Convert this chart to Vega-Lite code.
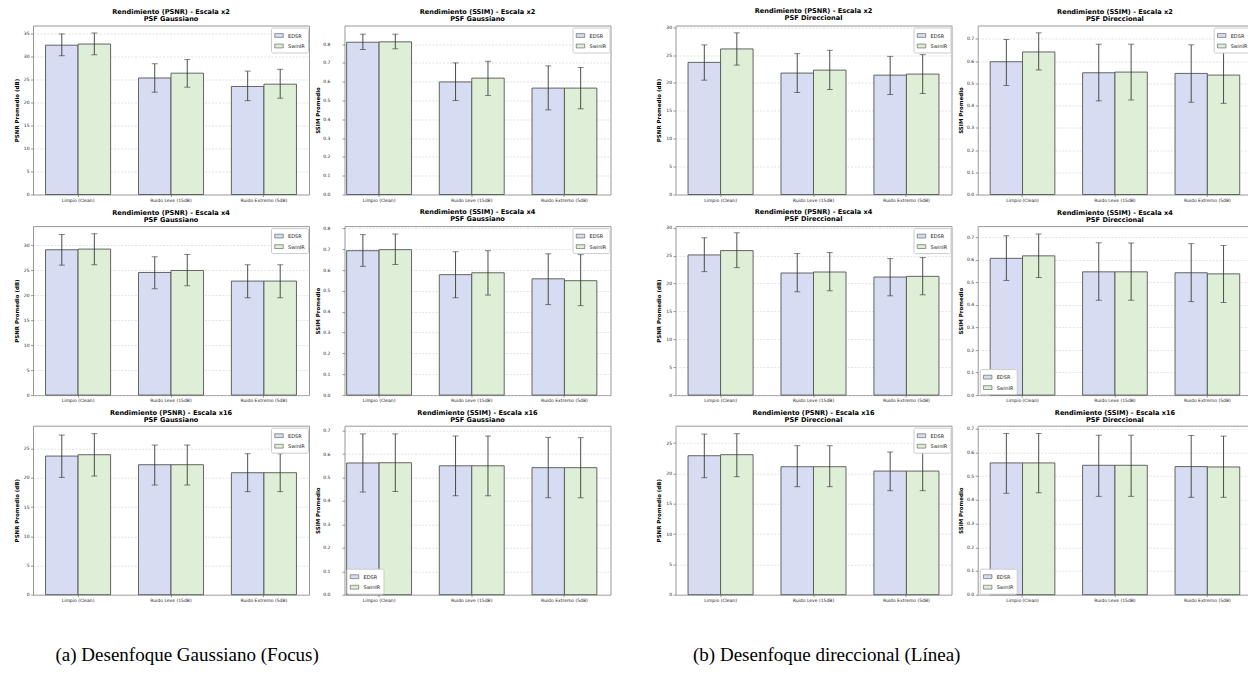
{
"$schema":"https://vega.github.io/schema/vega-lite/v6.json",
"padding":{"left":13,"top":7.5,"right":0,"bottom":0},
"background":"white",
"config":{
 "font":"DejaVu Sans",
 "view":{"stroke":"#999999","strokeWidth":1},
 "title":{"fontSize":6.6,"fontWeight":"bold","offset":2.5,"lineHeight":7,"color":"#000000","anchor":"middle"},
 "axis":{"labelFontSize":4.5,"labelColor":"#222222","titleFontSize":5.5,"titleFontWeight":"bold","titleColor":"#000000","tickSize":2.5,"tickColor":"#555555","tickWidth":0.6,"domain":false,"labelPadding":1.5},
 "axisX":{"grid":false,"labelAngle":0,"tickSize":2,"labelPadding":0.5},
 "axisY":{"grid":true,"gridDash":[2,1.5],"gridColor":"#cfcfcf","gridWidth":0.6,"titlePadding":3},
 "legend":{"labelFontSize":5,"labelColor":"#222222","symbolType":"M-1,-0.45H1V0.45H-1Z","symbolSize":72,"symbolStrokeColor":"#555555","symbolStrokeWidth":0.6,"padding":3,"rowPadding":1.5,"strokeColor":"#cccccc","fillColor":"white","cornerRadius":1.5,"offset":1.5,"labelOffset":4}
},
"datasets":{"bars":[
{"blur":"Gaussiano","scale":"x2","metric":"PSNR","noise":"Limpio (Clean)","model":"EDSR","value":32.55,"lo":30.25,"hi":35.0},
{"blur":"Gaussiano","scale":"x2","metric":"PSNR","noise":"Limpio (Clean)","model":"SwinIR","value":32.8,"lo":30.45,"hi":35.2},
{"blur":"Gaussiano","scale":"x2","metric":"PSNR","noise":"Ruido Leve (15dB)","model":"EDSR","value":25.4,"lo":22.3,"hi":28.5},
{"blur":"Gaussiano","scale":"x2","metric":"PSNR","noise":"Ruido Leve (15dB)","model":"SwinIR","value":26.45,"lo":23.4,"hi":29.4},
{"blur":"Gaussiano","scale":"x2","metric":"PSNR","noise":"Ruido Extremo (5dB)","model":"EDSR","value":23.55,"lo":20.45,"hi":26.9},
{"blur":"Gaussiano","scale":"x2","metric":"PSNR","noise":"Ruido Extremo (5dB)","model":"SwinIR","value":24.05,"lo":21.0,"hi":27.3},
{"blur":"Gaussiano","scale":"x2","metric":"SSIM","noise":"Limpio (Clean)","model":"EDSR","value":0.81,"lo":0.771,"hi":0.853},
{"blur":"Gaussiano","scale":"x2","metric":"SSIM","noise":"Limpio (Clean)","model":"SwinIR","value":0.812,"lo":0.775,"hi":0.853},
{"blur":"Gaussiano","scale":"x2","metric":"SSIM","noise":"Ruido Leve (15dB)","model":"EDSR","value":0.599,"lo":0.5,"hi":0.7},
{"blur":"Gaussiano","scale":"x2","metric":"SSIM","noise":"Ruido Leve (15dB)","model":"SwinIR","value":0.619,"lo":0.527,"hi":0.709},
{"blur":"Gaussiano","scale":"x2","metric":"SSIM","noise":"Ruido Extremo (5dB)","model":"EDSR","value":0.566,"lo":0.45,"hi":0.684},
{"blur":"Gaussiano","scale":"x2","metric":"SSIM","noise":"Ruido Extremo (5dB)","model":"SwinIR","value":0.566,"lo":0.456,"hi":0.676},
{"blur":"Direccional","scale":"x2","metric":"PSNR","noise":"Limpio (Clean)","model":"EDSR","value":23.69,"lo":20.5,"hi":26.82},
{"blur":"Direccional","scale":"x2","metric":"PSNR","noise":"Limpio (Clean)","model":"SwinIR","value":26.1,"lo":23.2,"hi":28.98},
{"blur":"Direccional","scale":"x2","metric":"PSNR","noise":"Ruido Leve (15dB)","model":"EDSR","value":21.77,"lo":18.28,"hi":25.25},
{"blur":"Direccional","scale":"x2","metric":"PSNR","noise":"Ruido Leve (15dB)","model":"SwinIR","value":22.3,"lo":18.82,"hi":25.86},
{"blur":"Direccional","scale":"x2","metric":"PSNR","noise":"Ruido Extremo (5dB)","model":"EDSR","value":21.4,"lo":17.92,"hi":24.77},
{"blur":"Direccional","scale":"x2","metric":"PSNR","noise":"Ruido Extremo (5dB)","model":"SwinIR","value":21.59,"lo":18.1,"hi":25.07},
{"blur":"Direccional","scale":"x2","metric":"SSIM","noise":"Limpio (Clean)","model":"EDSR","value":0.597,"lo":0.49,"hi":0.697},
{"blur":"Direccional","scale":"x2","metric":"SSIM","noise":"Limpio (Clean)","model":"SwinIR","value":0.641,"lo":0.56,"hi":0.727},
{"blur":"Direccional","scale":"x2","metric":"SSIM","noise":"Ruido Leve (15dB)","model":"EDSR","value":0.5475,"lo":0.421,"hi":0.676},
{"blur":"Direccional","scale":"x2","metric":"SSIM","noise":"Ruido Leve (15dB)","model":"SwinIR","value":0.5505,"lo":0.425,"hi":0.676},
{"blur":"Direccional","scale":"x2","metric":"SSIM","noise":"Ruido Extremo (5dB)","model":"EDSR","value":0.5445,"lo":0.415,"hi":0.673},
{"blur":"Direccional","scale":"x2","metric":"SSIM","noise":"Ruido Extremo (5dB)","model":"SwinIR","value":0.537,"lo":0.41,"hi":0.662},
{"blur":"Gaussiano","scale":"x4","metric":"PSNR","noise":"Limpio (Clean)","model":"EDSR","value":29.13,"lo":26.05,"hi":32.2},
{"blur":"Gaussiano","scale":"x4","metric":"PSNR","noise":"Limpio (Clean)","model":"SwinIR","value":29.26,"lo":26.12,"hi":32.33},
{"blur":"Gaussiano","scale":"x4","metric":"PSNR","noise":"Ruido Leve (15dB)","model":"EDSR","value":24.58,"lo":21.31,"hi":27.72},
{"blur":"Gaussiano","scale":"x4","metric":"PSNR","noise":"Ruido Leve (15dB)","model":"SwinIR","value":24.98,"lo":21.91,"hi":28.19},
{"blur":"Gaussiano","scale":"x4","metric":"PSNR","noise":"Ruido Extremo (5dB)","model":"EDSR","value":22.85,"lo":19.5,"hi":26.12},
{"blur":"Gaussiano","scale":"x4","metric":"PSNR","noise":"Ruido Extremo (5dB)","model":"SwinIR","value":22.85,"lo":19.5,"hi":26.12},
{"blur":"Gaussiano","scale":"x4","metric":"SSIM","noise":"Limpio (Clean)","model":"EDSR","value":0.693,"lo":0.618,"hi":0.77},
{"blur":"Gaussiano","scale":"x4","metric":"SSIM","noise":"Limpio (Clean)","model":"SwinIR","value":0.698,"lo":0.627,"hi":0.773},
{"blur":"Gaussiano","scale":"x4","metric":"SSIM","noise":"Ruido Leve (15dB)","model":"EDSR","value":0.578,"lo":0.467,"hi":0.688},
{"blur":"Gaussiano","scale":"x4","metric":"SSIM","noise":"Ruido Leve (15dB)","model":"SwinIR","value":0.587,"lo":0.48,"hi":0.693},
{"blur":"Gaussiano","scale":"x4","metric":"SSIM","noise":"Ruido Extremo (5dB)","model":"EDSR","value":0.558,"lo":0.434,"hi":0.678},
{"blur":"Gaussiano","scale":"x4","metric":"SSIM","noise":"Ruido Extremo (5dB)","model":"SwinIR","value":0.549,"lo":0.429,"hi":0.674},
{"blur":"Direccional","scale":"x4","metric":"PSNR","noise":"Limpio (Clean)","model":"EDSR","value":25.13,"lo":22.13,"hi":28.2},
{"blur":"Direccional","scale":"x4","metric":"PSNR","noise":"Limpio (Clean)","model":"SwinIR","value":25.91,"lo":22.85,"hi":29.1},
{"blur":"Direccional","scale":"x4","metric":"PSNR","noise":"Ruido Leve (15dB)","model":"EDSR","value":21.89,"lo":18.52,"hi":25.37},
{"blur":"Direccional","scale":"x4","metric":"PSNR","noise":"Ruido Leve (15dB)","model":"SwinIR","value":22.07,"lo":18.7,"hi":25.55},
{"blur":"Direccional","scale":"x4","metric":"PSNR","noise":"Ruido Extremo (5dB)","model":"EDSR","value":21.17,"lo":17.8,"hi":24.47},
{"blur":"Direccional","scale":"x4","metric":"PSNR","noise":"Ruido Extremo (5dB)","model":"SwinIR","value":21.29,"lo":17.98,"hi":24.65},
{"blur":"Direccional","scale":"x4","metric":"SSIM","noise":"Limpio (Clean)","model":"EDSR","value":0.607,"lo":0.509,"hi":0.707},
{"blur":"Direccional","scale":"x4","metric":"SSIM","noise":"Limpio (Clean)","model":"SwinIR","value":0.618,"lo":0.522,"hi":0.715},
{"blur":"Direccional","scale":"x4","metric":"SSIM","noise":"Ruido Leve (15dB)","model":"EDSR","value":0.547,"lo":0.421,"hi":0.676},
{"blur":"Direccional","scale":"x4","metric":"SSIM","noise":"Ruido Leve (15dB)","model":"SwinIR","value":0.547,"lo":0.421,"hi":0.675},
{"blur":"Direccional","scale":"x4","metric":"SSIM","noise":"Ruido Extremo (5dB)","model":"EDSR","value":0.543,"lo":0.415,"hi":0.672},
{"blur":"Direccional","scale":"x4","metric":"SSIM","noise":"Ruido Extremo (5dB)","model":"SwinIR","value":0.538,"lo":0.411,"hi":0.664},
{"blur":"Gaussiano","scale":"x16","metric":"PSNR","noise":"Limpio (Clean)","model":"EDSR","value":23.74,"lo":20.09,"hi":27.34},
{"blur":"Gaussiano","scale":"x16","metric":"PSNR","noise":"Limpio (Clean)","model":"SwinIR","value":23.97,"lo":20.32,"hi":27.57},
{"blur":"Gaussiano","scale":"x16","metric":"PSNR","noise":"Ruido Leve (15dB)","model":"EDSR","value":22.26,"lo":18.78,"hi":25.63},
{"blur":"Gaussiano","scale":"x16","metric":"PSNR","noise":"Ruido Leve (15dB)","model":"SwinIR","value":22.26,"lo":18.78,"hi":25.63},
{"blur":"Gaussiano","scale":"x16","metric":"PSNR","noise":"Ruido Extremo (5dB)","model":"EDSR","value":20.89,"lo":17.64,"hi":24.14},
{"blur":"Gaussiano","scale":"x16","metric":"PSNR","noise":"Ruido Extremo (5dB)","model":"SwinIR","value":20.89,"lo":17.64,"hi":24.14},
{"blur":"Gaussiano","scale":"x16","metric":"SSIM","noise":"Limpio (Clean)","model":"EDSR","value":0.562,"lo":0.438,"hi":0.686},
{"blur":"Gaussiano","scale":"x16","metric":"SSIM","noise":"Limpio (Clean)","model":"SwinIR","value":0.563,"lo":0.44,"hi":0.686},
{"blur":"Gaussiano","scale":"x16","metric":"SSIM","noise":"Ruido Leve (15dB)","model":"EDSR","value":0.55,"lo":0.422,"hi":0.677},
{"blur":"Gaussiano","scale":"x16","metric":"SSIM","noise":"Ruido Leve (15dB)","model":"SwinIR","value":0.55,"lo":0.422,"hi":0.677},
{"blur":"Gaussiano","scale":"x16","metric":"SSIM","noise":"Ruido Extremo (5dB)","model":"EDSR","value":0.542,"lo":0.4135,"hi":0.6715},
{"blur":"Gaussiano","scale":"x16","metric":"SSIM","noise":"Ruido Extremo (5dB)","model":"SwinIR","value":0.542,"lo":0.4135,"hi":0.67},
{"blur":"Direccional","scale":"x16","metric":"PSNR","noise":"Limpio (Clean)","model":"EDSR","value":22.91,"lo":19.29,"hi":26.48},
{"blur":"Direccional","scale":"x16","metric":"PSNR","noise":"Limpio (Clean)","model":"SwinIR","value":23.08,"lo":19.45,"hi":26.54},
{"blur":"Direccional","scale":"x16","metric":"PSNR","noise":"Ruido Leve (15dB)","model":"EDSR","value":21.1,"lo":17.8,"hi":24.56},
{"blur":"Direccional","scale":"x16","metric":"PSNR","noise":"Ruido Leve (15dB)","model":"SwinIR","value":21.1,"lo":17.8,"hi":24.56},
{"blur":"Direccional","scale":"x16","metric":"PSNR","noise":"Ruido Extremo (5dB)","model":"EDSR","value":20.38,"lo":17.14,"hi":23.52},
{"blur":"Direccional","scale":"x16","metric":"PSNR","noise":"Ruido Extremo (5dB)","model":"SwinIR","value":20.38,"lo":17.14,"hi":23.52},
{"blur":"Direccional","scale":"x16","metric":"SSIM","noise":"Limpio (Clean)","model":"EDSR","value":0.556,"lo":0.428,"hi":0.68},
{"blur":"Direccional","scale":"x16","metric":"SSIM","noise":"Limpio (Clean)","model":"SwinIR","value":0.556,"lo":0.43,"hi":0.68},
{"blur":"Direccional","scale":"x16","metric":"SSIM","noise":"Ruido Leve (15dB)","model":"EDSR","value":0.546,"lo":0.415,"hi":0.673},
{"blur":"Direccional","scale":"x16","metric":"SSIM","noise":"Ruido Leve (15dB)","model":"SwinIR","value":0.546,"lo":0.415,"hi":0.673},
{"blur":"Direccional","scale":"x16","metric":"SSIM","noise":"Ruido Extremo (5dB)","model":"EDSR","value":0.5405,"lo":0.411,"hi":0.672},
{"blur":"Direccional","scale":"x16","metric":"SSIM","noise":"Ruido Extremo (5dB)","model":"SwinIR","value":0.539,"lo":0.411,"hi":0.669}
]},
"spacing":44.5,
"resolve":{"scale":{"x":"independent","y":"independent","xOffset":"independent","color":"independent"},"legend":{"color":"independent"}},
"hconcat":[
{"title":{"text":"(a) Desenfoque Gaussiano (Focus)","orient":"bottom","anchor":"start","dx":42,"offset":44,"fontSize":19,"font":"Liberation Serif","fontWeight":"normal","color":"#000000"},
 "spacing":5.6,
 "resolve":{"scale":{"x":"independent","y":"independent","xOffset":"independent","color":"independent"},"legend":{"color":"independent"}},
 "vconcat":[
 {"spacing":4.5,"resolve":{"scale":{"x":"independent","y":"independent","xOffset":"independent","color":"independent"},"legend":{"color":"independent"}},
  "hconcat":[
  {"width":276,"height":169,"title":{"text":["Rendimiento (PSNR) - Escala x2","PSF Gaussiano"]},"data":{"name":"bars"},
   "transform":[{"filter":"datum.blur==='Gaussiano' && datum.scale==='x2' && datum.metric==='PSNR'"}],
   "encoding":{"x":{"field":"noise","type":"nominal","sort":["Limpio (Clean)","Ruido Leve (15dB)","Ruido Extremo (5dB)"],"title":null,"scale":{"paddingInner":0.3,"paddingOuter":0.135}},"xOffset":{"field":"model","type":"nominal","sort":["EDSR","SwinIR"],"scale":{"paddingInner":0,"paddingOuter":0}}},
   "layer":[
    {"mark":{"type":"bar","stroke":"#555555","strokeWidth":0.9},"encoding":{"y":{"field":"value","type":"quantitative","title":"PSNR Promedio (dB)","scale":{"domain":[0,36.84],"nice":false},"axis":{"values":[0,5,10,15,20,25,30,35],"format":"d","minExtent":11,"maxExtent":11,"labelPadding":1.5,"titlePadding":3}},"color":{"field":"model","type":"nominal","scale":{"domain":["EDSR","SwinIR"],"range":["#d6dcf1","#dfeed6"]},"legend":{"title":null,"orient":"top-right"}}}},
    {"mark":{"type":"rule","color":"#3a3a3a","strokeWidth":0.9},"encoding":{"y":{"field":"lo","type":"quantitative","title":"PSNR Promedio (dB)","axis":{"values":[0,5,10,15,20,25,30,35],"format":"d","minExtent":11,"maxExtent":11,"labelPadding":1.5,"titlePadding":3}},"y2":{"field":"hi"}}},
    {"mark":{"type":"tick","color":"#3a3a3a","thickness":0.9,"size":6},"encoding":{"y":{"field":"lo","type":"quantitative","title":"PSNR Promedio (dB)","axis":{"values":[0,5,10,15,20,25,30,35],"format":"d","minExtent":11,"maxExtent":11,"labelPadding":1.5,"titlePadding":3}}}},
    {"mark":{"type":"tick","color":"#3a3a3a","thickness":0.9,"size":6},"encoding":{"y":{"field":"hi","type":"quantitative","title":"PSNR Promedio (dB)","axis":{"values":[0,5,10,15,20,25,30,35],"format":"d","minExtent":11,"maxExtent":11,"labelPadding":1.5,"titlePadding":3}}}}
   ]},
  {"width":266,"height":169,"title":{"text":["Rendimiento (SSIM) - Escala x2","PSF Gaussiano"]},"data":{"name":"bars"},
   "transform":[{"filter":"datum.blur==='Gaussiano' && datum.scale==='x2' && datum.metric==='SSIM'"}],
   "encoding":{"x":{"field":"noise","type":"nominal","sort":["Limpio (Clean)","Ruido Leve (15dB)","Ruido Extremo (5dB)"],"title":null,"scale":{"paddingInner":0.3,"paddingOuter":0.085,"align":0.136}},"xOffset":{"field":"model","type":"nominal","sort":["EDSR","SwinIR"],"scale":{"paddingInner":0,"paddingOuter":0}}},
   "layer":[
    {"mark":{"type":"bar","stroke":"#555555","strokeWidth":0.9},"encoding":{"y":{"field":"value","type":"quantitative","title":"SSIM Promedio","scale":{"domain":[0,0.899],"nice":false},"axis":{"values":[0,0.1,0.2,0.3,0.4,0.5,0.6,0.7,0.8],"format":".1f","labelPadding":12,"minExtent":21,"maxExtent":21,"titlePadding":3}},"color":{"field":"model","type":"nominal","scale":{"domain":["EDSR","SwinIR"],"range":["#d6dcf1","#dfeed6"]},"legend":{"title":null,"orient":"top-right"}}}},
    {"mark":{"type":"rule","color":"#3a3a3a","strokeWidth":0.9},"encoding":{"y":{"field":"lo","type":"quantitative","title":"SSIM Promedio","axis":{"values":[0,0.1,0.2,0.3,0.4,0.5,0.6,0.7,0.8],"format":".1f","labelPadding":12,"minExtent":21,"maxExtent":21,"titlePadding":3}},"y2":{"field":"hi"}}},
    {"mark":{"type":"tick","color":"#3a3a3a","thickness":0.9,"size":6},"encoding":{"y":{"field":"lo","type":"quantitative","title":"SSIM Promedio","axis":{"values":[0,0.1,0.2,0.3,0.4,0.5,0.6,0.7,0.8],"format":".1f","labelPadding":12,"minExtent":21,"maxExtent":21,"titlePadding":3}}}},
    {"mark":{"type":"tick","color":"#3a3a3a","thickness":0.9,"size":6},"encoding":{"y":{"field":"hi","type":"quantitative","title":"SSIM Promedio","axis":{"values":[0,0.1,0.2,0.3,0.4,0.5,0.6,0.7,0.8],"format":".1f","labelPadding":12,"minExtent":21,"maxExtent":21,"titlePadding":3}}}}
   ]}
 ]},
 {"spacing":4.5,"resolve":{"scale":{"x":"independent","y":"independent","xOffset":"independent","color":"independent"},"legend":{"color":"independent"}},
  "hconcat":[
  {"width":276,"height":169,"title":{"text":["Rendimiento (PSNR) - Escala x4","PSF Gaussiano"]},"data":{"name":"bars"},
   "transform":[{"filter":"datum.blur==='Gaussiano' && datum.scale==='x4' && datum.metric==='PSNR'"}],
   "encoding":{"x":{"field":"noise","type":"nominal","sort":["Limpio (Clean)","Ruido Leve (15dB)","Ruido Extremo (5dB)"],"title":null,"scale":{"paddingInner":0.3,"paddingOuter":0.135}},"xOffset":{"field":"model","type":"nominal","sort":["EDSR","SwinIR"],"scale":{"paddingInner":0,"paddingOuter":0}}},
   "layer":[
    {"mark":{"type":"bar","stroke":"#555555","strokeWidth":0.9},"encoding":{"y":{"field":"value","type":"quantitative","title":"PSNR Promedio (dB)","scale":{"domain":[0,33.87],"nice":false},"axis":{"values":[0,5,10,15,20,25,30],"format":"d","minExtent":11,"maxExtent":11,"labelPadding":1.5,"titlePadding":3}},"color":{"field":"model","type":"nominal","scale":{"domain":["EDSR","SwinIR"],"range":["#d6dcf1","#dfeed6"]},"legend":{"title":null,"orient":"top-right"}}}},
    {"mark":{"type":"rule","color":"#3a3a3a","strokeWidth":0.9},"encoding":{"y":{"field":"lo","type":"quantitative","title":"PSNR Promedio (dB)","axis":{"values":[0,5,10,15,20,25,30],"format":"d","minExtent":11,"maxExtent":11,"labelPadding":1.5,"titlePadding":3}},"y2":{"field":"hi"}}},
    {"mark":{"type":"tick","color":"#3a3a3a","thickness":0.9,"size":6},"encoding":{"y":{"field":"lo","type":"quantitative","title":"PSNR Promedio (dB)","axis":{"values":[0,5,10,15,20,25,30],"format":"d","minExtent":11,"maxExtent":11,"labelPadding":1.5,"titlePadding":3}}}},
    {"mark":{"type":"tick","color":"#3a3a3a","thickness":0.9,"size":6},"encoding":{"y":{"field":"hi","type":"quantitative","title":"PSNR Promedio (dB)","axis":{"values":[0,5,10,15,20,25,30],"format":"d","minExtent":11,"maxExtent":11,"labelPadding":1.5,"titlePadding":3}}}}
   ]},
  {"width":266,"height":169,"title":{"text":["Rendimiento (SSIM) - Escala x4","PSF Gaussiano"]},"data":{"name":"bars"},
   "transform":[{"filter":"datum.blur==='Gaussiano' && datum.scale==='x4' && datum.metric==='SSIM'"}],
   "encoding":{"x":{"field":"noise","type":"nominal","sort":["Limpio (Clean)","Ruido Leve (15dB)","Ruido Extremo (5dB)"],"title":null,"scale":{"paddingInner":0.3,"paddingOuter":0.085,"align":0.136}},"xOffset":{"field":"model","type":"nominal","sort":["EDSR","SwinIR"],"scale":{"paddingInner":0,"paddingOuter":0}}},
   "layer":[
    {"mark":{"type":"bar","stroke":"#555555","strokeWidth":0.9},"encoding":{"y":{"field":"value","type":"quantitative","title":"SSIM Promedio","scale":{"domain":[0,0.811],"nice":false},"axis":{"values":[0,0.1,0.2,0.3,0.4,0.5,0.6,0.7,0.8],"format":".1f","labelPadding":12,"minExtent":21,"maxExtent":21,"titlePadding":3}},"color":{"field":"model","type":"nominal","scale":{"domain":["EDSR","SwinIR"],"range":["#d6dcf1","#dfeed6"]},"legend":{"title":null,"orient":"top-right"}}}},
    {"mark":{"type":"rule","color":"#3a3a3a","strokeWidth":0.9},"encoding":{"y":{"field":"lo","type":"quantitative","title":"SSIM Promedio","axis":{"values":[0,0.1,0.2,0.3,0.4,0.5,0.6,0.7,0.8],"format":".1f","labelPadding":12,"minExtent":21,"maxExtent":21,"titlePadding":3}},"y2":{"field":"hi"}}},
    {"mark":{"type":"tick","color":"#3a3a3a","thickness":0.9,"size":6},"encoding":{"y":{"field":"lo","type":"quantitative","title":"SSIM Promedio","axis":{"values":[0,0.1,0.2,0.3,0.4,0.5,0.6,0.7,0.8],"format":".1f","labelPadding":12,"minExtent":21,"maxExtent":21,"titlePadding":3}}}},
    {"mark":{"type":"tick","color":"#3a3a3a","thickness":0.9,"size":6},"encoding":{"y":{"field":"hi","type":"quantitative","title":"SSIM Promedio","axis":{"values":[0,0.1,0.2,0.3,0.4,0.5,0.6,0.7,0.8],"format":".1f","labelPadding":12,"minExtent":21,"maxExtent":21,"titlePadding":3}}}}
   ]}
 ]},
 {"spacing":4.5,"resolve":{"scale":{"x":"independent","y":"independent","xOffset":"independent","color":"independent"},"legend":{"color":"independent"}},
  "hconcat":[
  {"width":276,"height":169,"title":{"text":["Rendimiento (PSNR) - Escala x16","PSF Gaussiano"]},"data":{"name":"bars"},
   "transform":[{"filter":"datum.blur==='Gaussiano' && datum.scale==='x16' && datum.metric==='PSNR'"}],
   "encoding":{"x":{"field":"noise","type":"nominal","sort":["Limpio (Clean)","Ruido Leve (15dB)","Ruido Extremo (5dB)"],"title":null,"scale":{"paddingInner":0.3,"paddingOuter":0.135}},"xOffset":{"field":"model","type":"nominal","sort":["EDSR","SwinIR"],"scale":{"paddingInner":0,"paddingOuter":0}}},
   "layer":[
    {"mark":{"type":"bar","stroke":"#555555","strokeWidth":0.9},"encoding":{"y":{"field":"value","type":"quantitative","title":"PSNR Promedio (dB)","scale":{"domain":[0,28.94],"nice":false},"axis":{"values":[0,5,10,15,20,25],"format":"d","minExtent":11,"maxExtent":11,"labelPadding":1.5,"titlePadding":3}},"color":{"field":"model","type":"nominal","scale":{"domain":["EDSR","SwinIR"],"range":["#d6dcf1","#dfeed6"]},"legend":{"title":null,"orient":"top-right"}}}},
    {"mark":{"type":"rule","color":"#3a3a3a","strokeWidth":0.9},"encoding":{"y":{"field":"lo","type":"quantitative","title":"PSNR Promedio (dB)","axis":{"values":[0,5,10,15,20,25],"format":"d","minExtent":11,"maxExtent":11,"labelPadding":1.5,"titlePadding":3}},"y2":{"field":"hi"}}},
    {"mark":{"type":"tick","color":"#3a3a3a","thickness":0.9,"size":6},"encoding":{"y":{"field":"lo","type":"quantitative","title":"PSNR Promedio (dB)","axis":{"values":[0,5,10,15,20,25],"format":"d","minExtent":11,"maxExtent":11,"labelPadding":1.5,"titlePadding":3}}}},
    {"mark":{"type":"tick","color":"#3a3a3a","thickness":0.9,"size":6},"encoding":{"y":{"field":"hi","type":"quantitative","title":"PSNR Promedio (dB)","axis":{"values":[0,5,10,15,20,25],"format":"d","minExtent":11,"maxExtent":11,"labelPadding":1.5,"titlePadding":3}}}}
   ]},
  {"width":266,"height":169,"title":{"text":["Rendimiento (SSIM) - Escala x16","PSF Gaussiano"]},"data":{"name":"bars"},
   "transform":[{"filter":"datum.blur==='Gaussiano' && datum.scale==='x16' && datum.metric==='SSIM'"}],
   "encoding":{"x":{"field":"noise","type":"nominal","sort":["Limpio (Clean)","Ruido Leve (15dB)","Ruido Extremo (5dB)"],"title":null,"scale":{"paddingInner":0.3,"paddingOuter":0.085,"align":0.136}},"xOffset":{"field":"model","type":"nominal","sort":["EDSR","SwinIR"],"scale":{"paddingInner":0,"paddingOuter":0}}},
   "layer":[
    {"mark":{"type":"bar","stroke":"#555555","strokeWidth":0.9},"encoding":{"y":{"field":"value","type":"quantitative","title":"SSIM Promedio","scale":{"domain":[0,0.721],"nice":false},"axis":{"values":[0,0.1,0.2,0.3,0.4,0.5,0.6,0.7],"format":".1f","labelPadding":12,"minExtent":21,"maxExtent":21,"titlePadding":3}},"color":{"field":"model","type":"nominal","scale":{"domain":["EDSR","SwinIR"],"range":["#d6dcf1","#dfeed6"]},"legend":{"title":null,"orient":"bottom-left"}}}},
    {"mark":{"type":"rule","color":"#3a3a3a","strokeWidth":0.9},"encoding":{"y":{"field":"lo","type":"quantitative","title":"SSIM Promedio","axis":{"values":[0,0.1,0.2,0.3,0.4,0.5,0.6,0.7],"format":".1f","labelPadding":12,"minExtent":21,"maxExtent":21,"titlePadding":3}},"y2":{"field":"hi"}}},
    {"mark":{"type":"tick","color":"#3a3a3a","thickness":0.9,"size":6},"encoding":{"y":{"field":"lo","type":"quantitative","title":"SSIM Promedio","axis":{"values":[0,0.1,0.2,0.3,0.4,0.5,0.6,0.7],"format":".1f","labelPadding":12,"minExtent":21,"maxExtent":21,"titlePadding":3}}}},
    {"mark":{"type":"tick","color":"#3a3a3a","thickness":0.9,"size":6},"encoding":{"y":{"field":"hi","type":"quantitative","title":"SSIM Promedio","axis":{"values":[0,0.1,0.2,0.3,0.4,0.5,0.6,0.7],"format":".1f","labelPadding":12,"minExtent":21,"maxExtent":21,"titlePadding":3}}}}
   ]}
 ]}
 ]},
{"title":{"text":"(b) Desenfoque direccional (Línea)","orient":"bottom","anchor":"start","dx":37,"offset":44,"fontSize":19,"font":"Liberation Serif","fontWeight":"normal","color":"#000000"},
 "spacing":5.6,
 "resolve":{"scale":{"x":"independent","y":"independent","xOffset":"independent","color":"independent"},"legend":{"color":"independent"}},
 "vconcat":[
 {"spacing":5.2,"resolve":{"scale":{"x":"independent","y":"independent","xOffset":"independent","color":"independent"},"legend":{"color":"independent"}},
  "hconcat":[
  {"width":276,"height":169,"title":{"text":["Rendimiento (PSNR) - Escala x2","PSF Direccional"]},"data":{"name":"bars"},
   "transform":[{"filter":"datum.blur==='Direccional' && datum.scale==='x2' && datum.metric==='PSNR'"}],
   "encoding":{"x":{"field":"noise","type":"nominal","sort":["Limpio (Clean)","Ruido Leve (15dB)","Ruido Extremo (5dB)"],"title":null,"scale":{"paddingInner":0.3,"paddingOuter":0.135}},"xOffset":{"field":"model","type":"nominal","sort":["EDSR","SwinIR"],"scale":{"paddingInner":0,"paddingOuter":0}}},
   "layer":[
    {"mark":{"type":"bar","stroke":"#555555","strokeWidth":0.9},"encoding":{"y":{"field":"value","type":"quantitative","title":"PSNR Promedio (dB)","scale":{"domain":[0,30.3],"nice":false},"axis":{"values":[0,5,10,15,20,25,30],"format":"d","minExtent":11,"maxExtent":11,"labelPadding":1.5,"titlePadding":3}},"color":{"field":"model","type":"nominal","scale":{"domain":["EDSR","SwinIR"],"range":["#d6dcf1","#dfeed6"]},"legend":{"title":null,"orient":"top-right"}}}},
    {"mark":{"type":"rule","color":"#3a3a3a","strokeWidth":0.9},"encoding":{"y":{"field":"lo","type":"quantitative","title":"PSNR Promedio (dB)","axis":{"values":[0,5,10,15,20,25,30],"format":"d","minExtent":11,"maxExtent":11,"labelPadding":1.5,"titlePadding":3}},"y2":{"field":"hi"}}},
    {"mark":{"type":"tick","color":"#3a3a3a","thickness":0.9,"size":6},"encoding":{"y":{"field":"lo","type":"quantitative","title":"PSNR Promedio (dB)","axis":{"values":[0,5,10,15,20,25,30],"format":"d","minExtent":11,"maxExtent":11,"labelPadding":1.5,"titlePadding":3}}}},
    {"mark":{"type":"tick","color":"#3a3a3a","thickness":0.9,"size":6},"encoding":{"y":{"field":"hi","type":"quantitative","title":"PSNR Promedio (dB)","axis":{"values":[0,5,10,15,20,25,30],"format":"d","minExtent":11,"maxExtent":11,"labelPadding":1.5,"titlePadding":3}}}}
   ]},
  {"width":274.5,"height":169,"title":{"text":["Rendimiento (SSIM) - Escala x2","PSF Direccional"]},"data":{"name":"bars"},
   "transform":[{"filter":"datum.blur==='Direccional' && datum.scale==='x2' && datum.metric==='SSIM'"}],
   "encoding":{"x":{"field":"noise","type":"nominal","sort":["Limpio (Clean)","Ruido Leve (15dB)","Ruido Extremo (5dB)"],"title":null,"scale":{"paddingInner":0.3,"paddingOuter":0.135}},"xOffset":{"field":"model","type":"nominal","sort":["EDSR","SwinIR"],"scale":{"paddingInner":0,"paddingOuter":0}}},
   "layer":[
    {"mark":{"type":"bar","stroke":"#555555","strokeWidth":0.9},"encoding":{"y":{"field":"value","type":"quantitative","title":"SSIM Promedio","scale":{"domain":[0,0.76],"nice":false},"axis":{"values":[0,0.1,0.2,0.3,0.4,0.5,0.6,0.7],"format":".1f","minExtent":11,"maxExtent":11,"labelPadding":1.5,"titlePadding":3}},"color":{"field":"model","type":"nominal","scale":{"domain":["EDSR","SwinIR"],"range":["#d6dcf1","#dfeed6"]},"legend":{"title":null,"orient":"top-right"}}}},
    {"mark":{"type":"rule","color":"#3a3a3a","strokeWidth":0.9},"encoding":{"y":{"field":"lo","type":"quantitative","title":"SSIM Promedio","axis":{"values":[0,0.1,0.2,0.3,0.4,0.5,0.6,0.7],"format":".1f","minExtent":11,"maxExtent":11,"labelPadding":1.5,"titlePadding":3}},"y2":{"field":"hi"}}},
    {"mark":{"type":"tick","color":"#3a3a3a","thickness":0.9,"size":6},"encoding":{"y":{"field":"lo","type":"quantitative","title":"SSIM Promedio","axis":{"values":[0,0.1,0.2,0.3,0.4,0.5,0.6,0.7],"format":".1f","minExtent":11,"maxExtent":11,"labelPadding":1.5,"titlePadding":3}}}},
    {"mark":{"type":"tick","color":"#3a3a3a","thickness":0.9,"size":6},"encoding":{"y":{"field":"hi","type":"quantitative","title":"SSIM Promedio","axis":{"values":[0,0.1,0.2,0.3,0.4,0.5,0.6,0.7],"format":".1f","minExtent":11,"maxExtent":11,"labelPadding":1.5,"titlePadding":3}}}}
   ]}
 ]},
 {"spacing":5.2,"resolve":{"scale":{"x":"independent","y":"independent","xOffset":"independent","color":"independent"},"legend":{"color":"independent"}},
  "hconcat":[
  {"width":276,"height":169,"title":{"text":["Rendimiento (PSNR) - Escala x4","PSF Direccional"]},"data":{"name":"bars"},
   "transform":[{"filter":"datum.blur==='Direccional' && datum.scale==='x4' && datum.metric==='PSNR'"}],
   "encoding":{"x":{"field":"noise","type":"nominal","sort":["Limpio (Clean)","Ruido Leve (15dB)","Ruido Extremo (5dB)"],"title":null,"scale":{"paddingInner":0.3,"paddingOuter":0.135}},"xOffset":{"field":"model","type":"nominal","sort":["EDSR","SwinIR"],"scale":{"paddingInner":0,"paddingOuter":0}}},
   "layer":[
    {"mark":{"type":"bar","stroke":"#555555","strokeWidth":0.9},"encoding":{"y":{"field":"value","type":"quantitative","title":"PSNR Promedio (dB)","scale":{"domain":[0,30.3],"nice":false},"axis":{"values":[0,5,10,15,20,25,30],"format":"d","minExtent":11,"maxExtent":11,"labelPadding":1.5,"titlePadding":3}},"color":{"field":"model","type":"nominal","scale":{"domain":["EDSR","SwinIR"],"range":["#d6dcf1","#dfeed6"]},"legend":{"title":null,"orient":"top-right"}}}},
    {"mark":{"type":"rule","color":"#3a3a3a","strokeWidth":0.9},"encoding":{"y":{"field":"lo","type":"quantitative","title":"PSNR Promedio (dB)","axis":{"values":[0,5,10,15,20,25,30],"format":"d","minExtent":11,"maxExtent":11,"labelPadding":1.5,"titlePadding":3}},"y2":{"field":"hi"}}},
    {"mark":{"type":"tick","color":"#3a3a3a","thickness":0.9,"size":6},"encoding":{"y":{"field":"lo","type":"quantitative","title":"PSNR Promedio (dB)","axis":{"values":[0,5,10,15,20,25,30],"format":"d","minExtent":11,"maxExtent":11,"labelPadding":1.5,"titlePadding":3}}}},
    {"mark":{"type":"tick","color":"#3a3a3a","thickness":0.9,"size":6},"encoding":{"y":{"field":"hi","type":"quantitative","title":"PSNR Promedio (dB)","axis":{"values":[0,5,10,15,20,25,30],"format":"d","minExtent":11,"maxExtent":11,"labelPadding":1.5,"titlePadding":3}}}}
   ]},
  {"width":274.5,"height":169,"title":{"text":["Rendimiento (SSIM) - Escala x4","PSF Direccional"]},"data":{"name":"bars"},
   "transform":[{"filter":"datum.blur==='Direccional' && datum.scale==='x4' && datum.metric==='SSIM'"}],
   "encoding":{"x":{"field":"noise","type":"nominal","sort":["Limpio (Clean)","Ruido Leve (15dB)","Ruido Extremo (5dB)"],"title":null,"scale":{"paddingInner":0.3,"paddingOuter":0.135}},"xOffset":{"field":"model","type":"nominal","sort":["EDSR","SwinIR"],"scale":{"paddingInner":0,"paddingOuter":0}}},
   "layer":[
    {"mark":{"type":"bar","stroke":"#555555","strokeWidth":0.9},"encoding":{"y":{"field":"value","type":"quantitative","title":"SSIM Promedio","scale":{"domain":[0,0.75],"nice":false},"axis":{"values":[0,0.1,0.2,0.3,0.4,0.5,0.6,0.7],"format":".1f","minExtent":11,"maxExtent":11,"labelPadding":1.5,"titlePadding":3}},"color":{"field":"model","type":"nominal","scale":{"domain":["EDSR","SwinIR"],"range":["#d6dcf1","#dfeed6"]},"legend":{"title":null,"orient":"bottom-left"}}}},
    {"mark":{"type":"rule","color":"#3a3a3a","strokeWidth":0.9},"encoding":{"y":{"field":"lo","type":"quantitative","title":"SSIM Promedio","axis":{"values":[0,0.1,0.2,0.3,0.4,0.5,0.6,0.7],"format":".1f","minExtent":11,"maxExtent":11,"labelPadding":1.5,"titlePadding":3}},"y2":{"field":"hi"}}},
    {"mark":{"type":"tick","color":"#3a3a3a","thickness":0.9,"size":6},"encoding":{"y":{"field":"lo","type":"quantitative","title":"SSIM Promedio","axis":{"values":[0,0.1,0.2,0.3,0.4,0.5,0.6,0.7],"format":".1f","minExtent":11,"maxExtent":11,"labelPadding":1.5,"titlePadding":3}}}},
    {"mark":{"type":"tick","color":"#3a3a3a","thickness":0.9,"size":6},"encoding":{"y":{"field":"hi","type":"quantitative","title":"SSIM Promedio","axis":{"values":[0,0.1,0.2,0.3,0.4,0.5,0.6,0.7],"format":".1f","minExtent":11,"maxExtent":11,"labelPadding":1.5,"titlePadding":3}}}}
   ]}
 ]},
 {"spacing":5.2,"resolve":{"scale":{"x":"independent","y":"independent","xOffset":"independent","color":"independent"},"legend":{"color":"independent"}},
  "hconcat":[
  {"width":276,"height":169,"title":{"text":["Rendimiento (PSNR) - Escala x16","PSF Direccional"]},"data":{"name":"bars"},
   "transform":[{"filter":"datum.blur==='Direccional' && datum.scale==='x16' && datum.metric==='PSNR'"}],
   "encoding":{"x":{"field":"noise","type":"nominal","sort":["Limpio (Clean)","Ruido Leve (15dB)","Ruido Extremo (5dB)"],"title":null,"scale":{"paddingInner":0.3,"paddingOuter":0.135}},"xOffset":{"field":"model","type":"nominal","sort":["EDSR","SwinIR"],"scale":{"paddingInner":0,"paddingOuter":0}}},
   "layer":[
    {"mark":{"type":"bar","stroke":"#555555","strokeWidth":0.9},"encoding":{"y":{"field":"value","type":"quantitative","title":"PSNR Promedio (dB)","scale":{"domain":[0,27.86],"nice":false},"axis":{"values":[0,5,10,15,20,25],"format":"d","minExtent":11,"maxExtent":11,"labelPadding":1.5,"titlePadding":3}},"color":{"field":"model","type":"nominal","scale":{"domain":["EDSR","SwinIR"],"range":["#d6dcf1","#dfeed6"]},"legend":{"title":null,"orient":"top-right"}}}},
    {"mark":{"type":"rule","color":"#3a3a3a","strokeWidth":0.9},"encoding":{"y":{"field":"lo","type":"quantitative","title":"PSNR Promedio (dB)","axis":{"values":[0,5,10,15,20,25],"format":"d","minExtent":11,"maxExtent":11,"labelPadding":1.5,"titlePadding":3}},"y2":{"field":"hi"}}},
    {"mark":{"type":"tick","color":"#3a3a3a","thickness":0.9,"size":6},"encoding":{"y":{"field":"lo","type":"quantitative","title":"PSNR Promedio (dB)","axis":{"values":[0,5,10,15,20,25],"format":"d","minExtent":11,"maxExtent":11,"labelPadding":1.5,"titlePadding":3}}}},
    {"mark":{"type":"tick","color":"#3a3a3a","thickness":0.9,"size":6},"encoding":{"y":{"field":"hi","type":"quantitative","title":"PSNR Promedio (dB)","axis":{"values":[0,5,10,15,20,25],"format":"d","minExtent":11,"maxExtent":11,"labelPadding":1.5,"titlePadding":3}}}}
   ]},
  {"width":274.5,"height":169,"title":{"text":["Rendimiento (SSIM) - Escala x16","PSF Direccional"]},"data":{"name":"bars"},
   "transform":[{"filter":"datum.blur==='Direccional' && datum.scale==='x16' && datum.metric==='SSIM'"}],
   "encoding":{"x":{"field":"noise","type":"nominal","sort":["Limpio (Clean)","Ruido Leve (15dB)","Ruido Extremo (5dB)"],"title":null,"scale":{"paddingInner":0.3,"paddingOuter":0.135}},"xOffset":{"field":"model","type":"nominal","sort":["EDSR","SwinIR"],"scale":{"paddingInner":0,"paddingOuter":0}}},
   "layer":[
    {"mark":{"type":"bar","stroke":"#555555","strokeWidth":0.9},"encoding":{"y":{"field":"value","type":"quantitative","title":"SSIM Promedio","scale":{"domain":[0,0.713],"nice":false},"axis":{"values":[0,0.1,0.2,0.3,0.4,0.5,0.6,0.7],"format":".1f","minExtent":11,"maxExtent":11,"labelPadding":1.5,"titlePadding":3}},"color":{"field":"model","type":"nominal","scale":{"domain":["EDSR","SwinIR"],"range":["#d6dcf1","#dfeed6"]},"legend":{"title":null,"orient":"bottom-left"}}}},
    {"mark":{"type":"rule","color":"#3a3a3a","strokeWidth":0.9},"encoding":{"y":{"field":"lo","type":"quantitative","title":"SSIM Promedio","axis":{"values":[0,0.1,0.2,0.3,0.4,0.5,0.6,0.7],"format":".1f","minExtent":11,"maxExtent":11,"labelPadding":1.5,"titlePadding":3}},"y2":{"field":"hi"}}},
    {"mark":{"type":"tick","color":"#3a3a3a","thickness":0.9,"size":6},"encoding":{"y":{"field":"lo","type":"quantitative","title":"SSIM Promedio","axis":{"values":[0,0.1,0.2,0.3,0.4,0.5,0.6,0.7],"format":".1f","minExtent":11,"maxExtent":11,"labelPadding":1.5,"titlePadding":3}}}},
    {"mark":{"type":"tick","color":"#3a3a3a","thickness":0.9,"size":6},"encoding":{"y":{"field":"hi","type":"quantitative","title":"SSIM Promedio","axis":{"values":[0,0.1,0.2,0.3,0.4,0.5,0.6,0.7],"format":".1f","minExtent":11,"maxExtent":11,"labelPadding":1.5,"titlePadding":3}}}}
   ]}
 ]}
 ]}
]
}
